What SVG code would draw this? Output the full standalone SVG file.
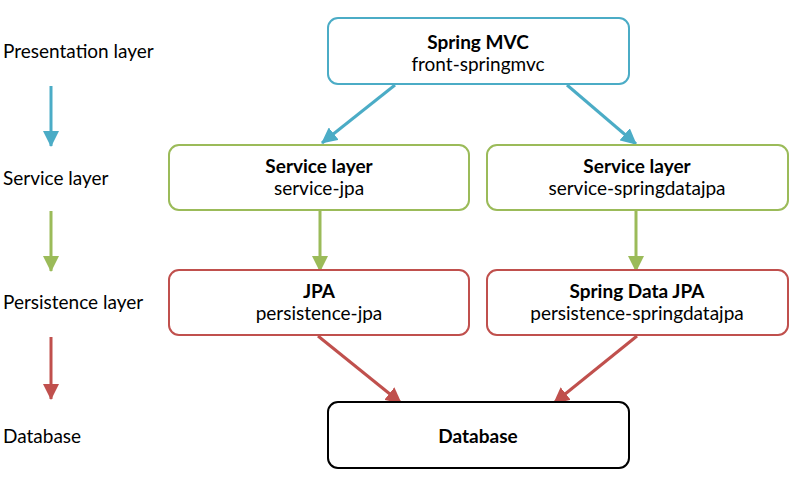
<svg xmlns="http://www.w3.org/2000/svg" width="791" height="479" viewBox="0 0 791 479">
<style>
text{font-family:Lato,"Open Sans","Liberation Sans",sans-serif;font-size:19px;fill:#000}
.c{text-anchor:middle}
.b{font-weight:bold}
.box{fill:#fff;stroke-width:2}
.blue{stroke:#4BACC6}
.green{stroke:#9BBB59}
.red{stroke:#C0504D}
.black{stroke:#000}
.ln{stroke-width:3;fill:none}
</style>
<defs>
<marker id="ab" markerUnits="userSpaceOnUse" markerWidth="16" markerHeight="16" viewBox="0 0 16 16" refX="15" refY="8" orient="auto"><path d="M0,0 L16,8 L0,16 Z" fill="#4BACC6"/></marker>
<marker id="ag" markerUnits="userSpaceOnUse" markerWidth="16" markerHeight="16" viewBox="0 0 16 16" refX="15" refY="8" orient="auto"><path d="M0,0 L16,8 L0,16 Z" fill="#9BBB59"/></marker>
<marker id="ar" markerUnits="userSpaceOnUse" markerWidth="16" markerHeight="16" viewBox="0 0 16 16" refX="15" refY="8" orient="auto"><path d="M0,0 L16,8 L0,16 Z" fill="#C0504D"/></marker>
</defs>
<g id="labels">
<text x="3" y="58">Presentation layer</text>
<text x="3" y="185">Service layer</text>
<text x="3" y="309">Persistence layer</text>
<text x="3" y="443">Database</text>
</g>
<g id="connectors">
<line class="ln blue" x1="51" y1="86" x2="51" y2="146" marker-end="url(#ab)"/>
<line class="ln green" x1="51" y1="211" x2="51" y2="271" marker-end="url(#ag)"/>
<line class="ln red" x1="51" y1="337" x2="51" y2="399" marker-end="url(#ar)"/>
<line class="ln blue" x1="395" y1="85" x2="322" y2="143" marker-end="url(#ab)"/>
<line class="ln blue" x1="567" y1="85" x2="636" y2="144" marker-end="url(#ab)"/>
<line class="ln green" x1="320" y1="211" x2="320" y2="271" marker-end="url(#ag)"/>
<line class="ln green" x1="636" y1="211" x2="636" y2="271" marker-end="url(#ag)"/>
<line class="ln red" x1="318" y1="336" x2="401" y2="403" marker-end="url(#ar)"/>
<line class="ln red" x1="637" y1="336" x2="554" y2="403" marker-end="url(#ar)"/>
</g>
<g id="springmvc">
<rect class="box blue" x="328" y="18" width="301" height="66" rx="10"/>
<text class="c b" x="478" y="49">Spring MVC</text>
<text class="c" x="478" y="71">front-springmvc</text>
</g>
<g id="service-jpa">
<rect class="box green" x="169" y="145" width="300" height="65" rx="10"/>
<text class="c b" x="319" y="173">Service layer</text>
<text class="c" x="319" y="195">service-jpa</text>
</g>
<g id="service-springdatajpa">
<rect class="box green" x="487" y="145" width="301" height="65" rx="10"/>
<text class="c b" x="637" y="173">Service layer</text>
<text class="c" x="637" y="195">service-springdatajpa</text>
</g>
<g id="persistence-jpa">
<rect class="box red" x="169" y="270" width="300" height="65" rx="10"/>
<text class="c b" x="319" y="298">JPA</text>
<text class="c" x="319" y="320">persistence-jpa</text>
</g>
<g id="persistence-springdatajpa">
<rect class="box red" x="487" y="270" width="301" height="65" rx="10"/>
<text class="c b" x="637" y="298">Spring Data JPA</text>
<text class="c" x="637" y="320">persistence-springdatajpa</text>
</g>
<g id="database">
<rect class="box black" x="328" y="402" width="301" height="66" rx="10"/>
<text class="c b" x="478" y="443">Database</text>
</g>
</svg>
